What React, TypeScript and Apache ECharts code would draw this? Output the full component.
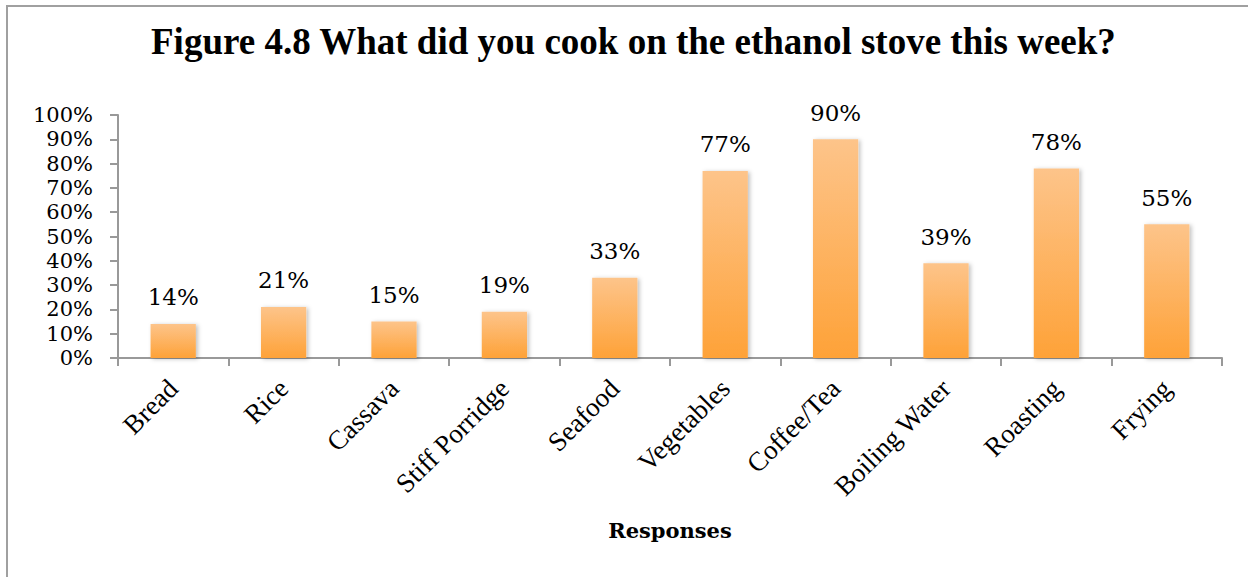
import React, { useEffect, useRef } from "react";
import * as echarts from "echarts";

const categories = ["Bread", "Rice", "Cassava", "Stiff Porridge", "Seafood", "Vegetables", "Coffee/Tea", "Boiling Water", "Roasting", "Frying"];
const values = [14, 21, 15, 19, 33, 77, 90, 39, 78, 55];
const titleText = "Figure 4.8 What did you cook on the ethanol stove this week?";
const xAxisName = "Responses";

export default function App() {
  const ref = useRef<HTMLDivElement>(null);
  useEffect(() => {
    document.body.style.margin = "0";
    const chart = echarts.init(ref.current!, null, { renderer: "svg" });
    chart.setOption({
      animation: false,
      backgroundColor: "#fff",
      title: {
        text: titleText,
        left: 146,
        top: 18,
        textStyle: { fontFamily: "Liberation Serif", fontWeight: "bold", fontSize: 37, color: "#000" },
      },
      graphic: [
        {
          type: "rect",
          shape: { x: 7, y: 6, width: 1400, height: 700 },
          style: { fill: "none", stroke: "#a0a0a0", lineWidth: 2 },
          silent: true,
        },
      ],
      grid: { left: 118, right: 26, top: 115, bottom: 219 },
      xAxis: {
        type: "category",
        data: categories,
        name: xAxisName,
        nameLocation: "middle",
        nameGap: 162,
        nameTextStyle: { fontFamily: "DejaVu Serif", fontWeight: "bold", fontSize: 21, color: "#000" },
        axisLine: { lineStyle: { color: "#999", width: 2 } },
        axisTick: { show: true, length: 8, lineStyle: { color: "#999", width: 2 } },
        axisLabel: { rotate: 45, margin: 26, interval: 0, fontFamily: "Liberation Serif", fontSize: 27, color: "#000" },
      },
      yAxis: {
        type: "value",
        min: 0,
        max: 100,
        interval: 10,
        splitLine: { show: false },
        axisLine: { show: true, lineStyle: { color: "#999", width: 2 } },
        axisTick: { show: true, length: 8, lineStyle: { color: "#999", width: 2 } },
        axisLabel: { formatter: "{value}%", margin: 25, fontFamily: "DejaVu Serif", fontSize: 21, color: "#000" },
      },
      series: [
        {
          type: "bar",
          data: values,
          barWidth: "41%",
          itemStyle: {
            color: new echarts.graphic.LinearGradient(0, 0, 0, 1, [
              { offset: 0, color: "#fdc48a" },
              { offset: 1, color: "#fea238" },
            ]),
            shadowBlur: 4,
            shadowColor: "rgba(0,0,0,0.25)",
            shadowOffsetX: 2,
            shadowOffsetY: 1,
          },
          label: {
            show: true,
            position: "top",
            distance: 15,
            formatter: "{c}%",
            fontFamily: "DejaVu Serif",
            fontSize: 23,
            color: "#000",
          },
        },
      ],
    });
    return () => chart.dispose();
  }, []);
  return <div ref={ref} style={{ width: 1248, height: 577 }} />;
}
